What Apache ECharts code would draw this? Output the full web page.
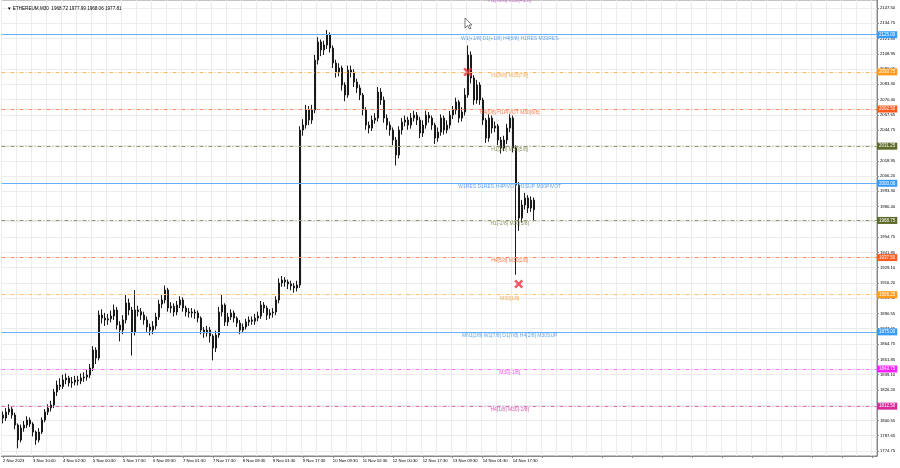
<!DOCTYPE html>
<html><head><meta charset="utf-8">
<script src="https://cdn.jsdelivr.net/npm/echarts@6/dist/echarts.min.js"></script>
<style>html,body{margin:0;padding:0;background:#fff}#c{width:900px;height:468px}</style>
</head><body><div id="c"></div>
<script>
// ---- data ----
const titleText = '\u25BC ETHEREUM,M30  1968.72 1977.99 1968.06 1977.81';
const timeLabels = ['2 Nov 2023','3 Nov 10:00','4 Nov 02:30','5 Nov 00:30','5 Nov 17:30','6 Nov 09:30','7 Nov 01:30','7 Nov 17:30','8 Nov 09:30','9 Nov 01:30','9 Nov 17:30','10 Nov 09:30','11 Nov 02:30','12 Nov 00:30','12 Nov 17:30','13 Nov 09:30','14 Nov 01:30','14 Nov 17:30'];
const priceTicks = [2147.50,2134.75,2121.85,2108.95,2096.05,2083.30,2070.40,2057.65,2044.75,2031.85,2018.95,2006.20,1993.30,1980.40,1967.65,1954.75,1941.85,1929.10,1916.20,1903.30,1890.55,1877.65,1864.75,1851.85,1839.10,1826.20,1813.30,1800.55,1787.65,1774.75];
const opens = [1805,1802.5,1807.6,1810.1,1805,1796.6,1784,1794.1,1796.6,1800.8,1797.5,1790.7,1784,1790.7,1800.8,1807.6,1810.9,1813.5,1824.4,1830.3,1829,1834.5,1836.2,1832,1832.8,1834.5,1833.7,1836.2,1837,1838.7,1844.6,1859.7,1853,1889.2,1886.6,1885,1886,1888.3,1893.4,1880.7,1876.5,1885,1899.3,1893.4,1874.9,1893.4,1892,1889.2,1885,1879.1,1876.5,1879.9,1887.5,1898.4,1901.8,1910.2,1895.1,1896.5,1891.7,1897.6,1901.8,1895.1,1891.7,1890.9,1891.7,1890.9,1886.6,1876.5,1874,1876.5,1871.5,1861.4,1872.4,1891.7,1897.6,1883.3,1887.5,1890.9,1886.6,1882.4,1876.5,1879.1,1883.3,1885,1884,1886.6,1888.3,1897.6,1895.1,1889.2,1890.9,1891.7,1901.8,1916.1,1918.6,1917,1915.3,1913.6,1911.9,1914.4,2044.8,2049,2061.7,2053.2,2061.7,2103.7,2118.9,2112.2,2116.4,2124.8,2113.8,2101.2,2093.6,2097,2082.7,2074.3,2095.3,2093.6,2085.2,2080.2,2074.3,2061.7,2049,2046.5,2053.2,2054.9,2076.8,2070.1,2054.9,2049,2044.8,2036.4,2023.8,2044.8,2051.5,2053.2,2049,2054.9,2057.4,2053.2,2042.3,2049,2057.4,2054.9,2049,2038.1,2043.1,2054.9,2044.8,2049,2057.4,2061.7,2068.4,2054.9,2060,2074.3,2107.9,2088.6,2070.1,2082.7,2070.1,2053.2,2038.1,2054.9,2046.5,2048.2,2036.4,2029.7,2036.4,2046.5,2054.9,2029.7,1998.5,1970.8,1981.7,1987.6,1979.2,1985.9];
const closes = [1802.5,1807.6,1810.1,1805,1796.6,1784,1794.1,1796.6,1800.8,1797.5,1790.7,1784,1790.7,1800.8,1807.6,1810.9,1813.5,1824.4,1830.3,1829,1834.5,1836.2,1832,1832.8,1834.5,1833.7,1836.2,1837,1838.7,1844.6,1859.7,1853,1889.2,1886.6,1885,1886,1888.3,1893.4,1880.7,1876.5,1885,1899.3,1893.4,1874.9,1893.4,1892,1889.2,1885,1879.1,1876.5,1879.9,1887.5,1898.4,1901.8,1910.2,1895.1,1896.5,1891.7,1897.6,1901.8,1895.1,1891.7,1890.9,1891.7,1890.9,1886.6,1876.5,1874,1876.5,1871.5,1861.4,1872.4,1891.7,1897.6,1883.3,1887.5,1890.9,1886.6,1882.4,1876.5,1879.1,1883.3,1885,1884,1886.6,1888.3,1897.6,1895.1,1889.2,1890.9,1891.7,1901.8,1916.1,1918.6,1917,1915.3,1913.6,1911.9,1914.4,2044.8,2049,2061.7,2053.2,2061.7,2103.7,2118.9,2112.2,2116.4,2124.8,2113.8,2101.2,2093.6,2097,2082.7,2074.3,2095.3,2093.6,2085.2,2080.2,2074.3,2061.7,2049,2046.5,2053.2,2054.9,2076.8,2070.1,2054.9,2049,2044.8,2036.4,2023.8,2044.8,2051.5,2053.2,2049,2054.9,2057.4,2053.2,2042.3,2049,2057.4,2054.9,2049,2038.1,2043.1,2054.9,2044.8,2049,2057.4,2061.7,2068.4,2054.9,2060,2074.3,2107.9,2088.6,2070.1,2082.7,2070.1,2053.2,2038.1,2054.9,2046.5,2048.2,2036.4,2029.7,2036.4,2046.5,2054.9,2029.7,1998.5,1970.8,1981.7,1987.6,1979.2,1985.9,1977.81];
const lows = [1798,1800,1805,1802,1793,1777,1782,1791,1794,1795,1787,1780,1782,1789,1799,1805,1808,1811,1821,1826,1827,1831,1829,1828,1830,1830,1831,1833,1834,1836,1842,1848,1851,1882,1880,1881,1883,1885,1877,1867,1873,1882,1889,1855,1872,1888,1885,1881,1875,1872,1873,1877,1885,1895,1899,1892,1891,1888,1889,1895,1892,1888,1887,1887,1886,1883,1873,1870,1871,1866,1851,1858,1870,1888,1880,1880,1885,1883,1879,1873,1874,1877,1880,1881,1881,1884,1886,1891,1885,1886,1887,1889,1899,1913,1913,1911,1910,1908,1909,1912,2040,2046,2049,2050,2059,2100,2107,2108,2113,2110,2097,2089,2090,2078,2069,2072,2089,2081,2076,2070,2057,2045,2042,2044,2050,2052,2066,2051,2045,2040,2032,2015,2021,2041,2048,2045,2046,2052,2049,2038,2039,2046,2051,2045,2033,2035,2040,2041,2042,2046,2054,2058,2051,2052,2057,2072,2084,2066,2067,2066,2049,2034,2035,2042,2043,2032,2025,2027,2033,2043,2026,1923,1960,1967,1978,1975,1976,1968.06];
const highs = [1808,1811,1814,1812,1807,1798,1797,1800,1804,1803,1799,1792,1794,1803,1810,1814,1817,1827,1834,1836,1839,1840,1838,1837,1838,1838,1840,1841,1843,1848,1863,1862,1893,1894,1891,1890,1893,1898,1896,1884,1889,1906,1903,1896,1910,1897,1895,1892,1888,1882,1884,1891,1902,1906,1914,1912,1900,1899,1901,1905,1904,1897,1895,1895,1894,1893,1888,1879,1880,1879,1873,1876,1896,1906,1899,1891,1894,1893,1888,1885,1882,1886,1888,1888,1890,1892,1901,1900,1897,1894,1895,1905,1920,1922,1921,1919,1918,1916,1918,2048,2054,2066,2065,2066,2108,2123,2121,2120,2129,2127,2116,2104,2101,2099,2085,2099,2099,2096,2088,2083,2076,2064,2052,2057,2059,2081,2080,2073,2058,2052,2047,2039,2048,2055,2057,2056,2059,2061,2060,2056,2053,2061,2060,2057,2051,2047,2058,2057,2053,2061,2065,2072,2070,2064,2080,2116,2111,2091,2087,2085,2072,2055,2058,2057,2052,2050,2039,2040,2050,2058,2057,2032,2001,1986,1992,1990,1989,1987.99];
const levelValues = [2156.25,2125.00,2093.75,2062.50,2031.25,2000.00,1968.75,1937.50,1906.25,1875.00,1843.75,1812.50];
const levelTexts = ['H1[+2/8] M30[+1/8]','W1[+1/8] D1[+1/8] H4[8/8] H1RES M30RES','H1[8/8] M30[7/8]','H4[6/8] H1PIVOT M30[6/8]','H1[2/8] M30[5/8]','W1RES D1RES H4PIVOT H1SUP M30PIVOT','H1[-2/8] M30[3/8]','H4[5/8] M30[2/8]','M30[1/8]','MN1[2/8] W1[7/8] D1[7/8] H4[2/8] M30SUP','M30[-1/8]','H4[1/8] M30[-2/8]'];
const tagColors = ['#c050c0','#3a9bf5','#ff9a1a','#ff5a1e','#5c6b2a','#3a9bf5','#5c6b2a','#ff5a1e','#ff9a1a','#3a9bf5','#ff22ff','#d8289a'];
const lineColors = ['#d070d0','#64b0ff','#ffb860','#ff8a60','#8f9a6a','#64b0ff','#8f9a6a','#ff8a60','#ffc070','#64b0ff','#ff70ff','#e070c0'];
const levelTextColors = ['#c050c0','#3a8fe8','#f0922a','#ff5a1e','#6d7d38','#3a8fe8','#6d7d38','#ff5a1e','#f0922a','#3a8fe8','#ee30ee','#d8289a'];
const levelDash = ['dashed','solid','dashed','dashed','dashed','solid','dashed','dashed','dashed','solid','dashed','dashed'];
const lastPrice = 1977.81;
const crossMarks = [[155, 2093.6], [172, 1915.3]];
const levelLabelSlot = 169;

// ---- layout constants ----
const SLOTS = 292;
const FONT = 'Liberation Sans';

const xCats = [];
for (let i = 0; i < SLOTS; i++) xCats.push(i % 10 === 0 && timeLabels[i / 10] ? timeLabels[i / 10] : '');
const candles = opens.map((o, i) => [o, closes[i], lows[i], highs[i]]);

const markLineData = levelValues.map((v, i) => ({
  yAxis: v,
  lineStyle: { color: lineColors[i], type: levelDash[i] === 'solid' ? 'solid' : [4, 2, 1, 2], width: 1 },
  label: { show: true, position: 'end', distance: 0, formatter: v.toFixed(2), color: '#fff',
           backgroundColor: tagColors[i], padding: [1, 2, 1, 2], fontSize: 4.5, fontFamily: FONT }
}));
markLineData.push({
  yAxis: lastPrice,
  lineStyle: { color: '#c8c8c8', width: 0, opacity: 0 },
  label: { show: true, position: 'end', distance: 0, formatter: lastPrice.toFixed(2), color: '#fff',
           backgroundColor: '#000', padding: [1, 2, 1, 2], fontSize: 4.5, fontFamily: FONT }
});

const chart = echarts.init(document.getElementById('c'), null, { renderer: 'canvas' });
chart.setOption({
  animation: false,
  backgroundColor: '#fff',
  title: { text: titleText, left: 2, top: 1, textStyle: { fontSize: 4.6, fontWeight: 'normal', color: '#000', fontFamily: FONT } },
  grid: { left: 1, right: 23, top: 0, bottom: 12, show: true, borderColor: '#888', borderWidth: 1 },
  xAxis: {
    type: 'category', data: xCats, boundaryGap: true,
    axisLine: { show: true, lineStyle: { color: '#888' } },
    axisTick: { show: true, interval: 9, alignWithLabel: true, length: 2, lineStyle: { color: '#888' } },
    axisLabel: { interval: 9, align: 'left', fontSize: 4.2, fontFamily: FONT, color: '#000', margin: 3 },
    splitLine: { show: true, interval: 4, lineStyle: { color: '#ececec', width: 1 } }
  },
  yAxis: {
    type: 'value', position: 'right', min: 1770.55, max: 2154.23, scale: true,
    axisLine: { show: true, lineStyle: { color: '#888' } },
    axisTick: { show: true, length: 2, customValues: priceTicks, lineStyle: { color: '#888' } },
    axisLabel: { customValues: priceTicks, formatter: v => v.toFixed(2), fontSize: 4.2, fontFamily: FONT, color: '#000', margin: 3 },
    splitLine: { show: true, lineStyle: { color: '#ececec', width: 1 } }
  },
  graphic: [{
    type: 'polygon', silent: true, z: 100,
    shape: { points: [[465, 18], [465, 28], [467.5, 25.5], [469.5, 29], [471, 28.3], [469, 25], [472, 25]] },
    style: { fill: '#fff', stroke: '#555', lineWidth: 0.8 }
  }],
  series: [
    {
      type: 'candlestick', data: candles, barWidth: 1.6,
      itemStyle: { color: '#666', color0: '#1a1a1a', borderColor: '#1a1a1a', borderColor0: '#1a1a1a', borderWidth: 1 },
      markLine: { silent: true, symbol: ['none', 'none'], animation: false, data: markLineData }
    },
    {
      type: 'scatter', clip: false, symbolSize: 0, silent: true,
      data: levelValues.map((v, i) => ({ value: [levelLabelSlot, v],
        label: { show: true, position: 'bottom', distance: 1, formatter: levelTexts[i], color: levelTextColors[i], fontSize: 5, fontFamily: FONT } }))
    },
    {
      type: 'scatter', clip: false, silent: true, symbolSize: 9,
      symbol: 'path://M2,0L5,3L8,0L10,2L7,5L10,8L8,10L5,7L2,10L0,8L3,5L0,2Z',
      itemStyle: { color: '#e8323c' }, data: crossMarks
    }
  ]
});
</script></body></html>
